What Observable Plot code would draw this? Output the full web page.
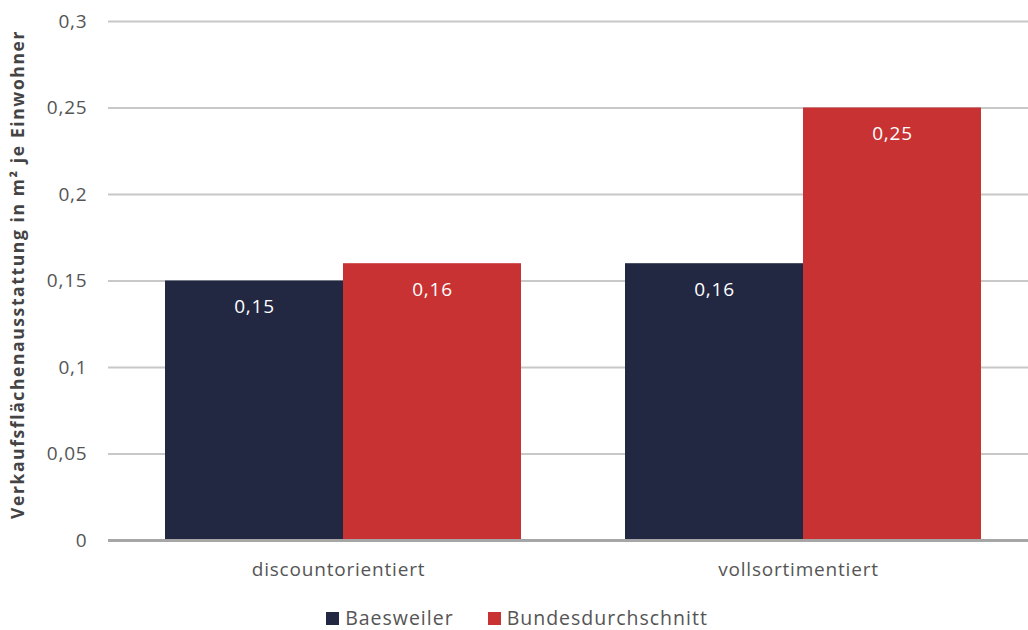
<!DOCTYPE html>
<html>
<head>
<meta charset="utf-8">
<script src="https://cdn.jsdelivr.net/npm/d3@7"></script>
<script src="https://cdn.jsdelivr.net/npm/@observablehq/plot@0.6"></script>
<style>
  html, body { margin: 0; padding: 0; background: #fff; }
  body { width: 1028px; height: 630px; overflow: hidden; font-family: "Open Sans", sans-serif; }
  #legend { display: flex; justify-content: center; gap: 34px; margin-top: 7px; padding-left: 6px; font-size: 19.5px; font-weight: 400; color: #555; letter-spacing: 1px; line-height: 22px; }
  #legend .item { display: flex; align-items: center; gap: 6px; }
  #legend .sw { width: 13px; height: 13px; display: inline-block; }
</style>
</head>
<body>
<div id="chart"></div>
<div id="legend"></div>
<script>
const groups = ["discountorientiert", "vollsortimentiert"];
const series = ["Baesweiler", "Bundesdurchschnitt"];
const baesweiler = [0.15, 0.16];
const bundesdurchschnitt = [0.16, 0.25];
const colors = ["#232842", "#c83232"];
const yTicks = [0, 0.05, 0.1, 0.15, 0.2, 0.25, 0.3];
const yLabel = "Verkaufsflächenausstattung in m² je Einwohner";

const fmt = d => String(d).replace(".", ",");
const data = groups.flatMap((g, i) => [
  {group: g, series: series[0], value: baesweiler[i]},
  {group: g, series: series[1], value: bundesdurchschnitt[i]}
]);

const chart = Plot.plot({
  width: 1028,
  height: 600,
  marginLeft: 107,
  marginRight: 0,
  marginTop: 21,
  marginBottom: 60,
  style: {fontFamily: "'Open Sans', sans-serif", fontSize: "19px", fontWeight: 400, color: "#555", background: "white", letterSpacing: "0.8px"},
  fx: {domain: groups, padding: 0, label: null, axis: "bottom", tickSize: 0, tickPadding: 22},
  x: {domain: series, axis: null, paddingInner: 0, paddingOuter: 0.286, align: 0.55},
  y: {domain: [0, 0.3], ticks: yTicks, tickFormat: fmt, tickSize: 0, tickPadding: 21, label: null},
  color: {domain: series, range: colors},
  marks: [
    Plot.ruleY(yTicks.slice(1), {stroke: "#c8c8c8", strokeWidth: 2}),
    Plot.barY(data, {fx: "group", x: "series", y: "value", fill: "series"}),
    Plot.text(data, {fx: "group", x: "series", y: "value", text: d => fmt(d.value), dy: 26, fill: "white", fontSize: 19}),
    Plot.ruleY([0], {stroke: "#a6a6a6", strokeWidth: 3})
  ]
});
document.getElementById("chart").appendChild(chart);

// rotated y-axis title
const svg = d3.select(chart.tagName === "svg" ? chart : chart.querySelector("svg"));
svg.append("text")
  .attr("transform", `translate(24, ${(21 + 540) / 2 - 6}) rotate(-90)`)
  .attr("text-anchor", "middle")
  .attr("font-weight", "bold")
  .attr("font-size", 17.5)
  .attr("letter-spacing", "1.6px")
  .attr("fill", "#444")
  .text(yLabel);

const legend = d3.select("#legend");
series.forEach((s, i) => {
  const it = legend.append("div").attr("class", "item");
  it.append("span").attr("class", "sw").style("background", colors[i]);
  it.append("span").text(s);
});
</script>
</body>
</html>
